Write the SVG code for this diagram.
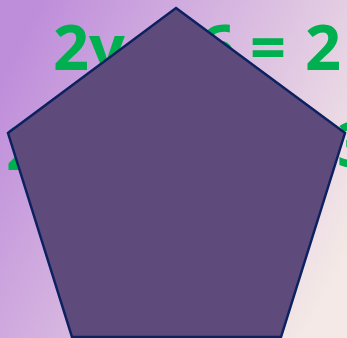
<svg xmlns="http://www.w3.org/2000/svg" width="347" height="338" viewBox="0 0 347 338">
  <defs>
    <linearGradient id="bg" x1="0" y1="0.25" x2="1" y2="0.75">
      <stop offset="0" stop-color="#bf8edb"/>
      <stop offset="1" stop-color="#f4e9e6"/>
    </linearGradient>
    <style>
      .eq { font-family: "Open Sans", "Liberation Sans", sans-serif; font-weight: 700; font-size: 63px; fill: #00b050; }
      .shape { fill: #5f4b7b; stroke: #0c2160; stroke-width: 2.5; stroke-linejoin: miter; }
    </style>
  </defs>
  <rect x="0" y="0" width="347" height="338" fill="url(#bg)"/>
  <g id="equation">
    <text class="eq" x="53" y="70">2y</text>
    <text class="eq" x="199" y="70">6</text>
    <text class="eq" x="250" y="70">=</text>
    <text class="eq" x="305" y="70">2</text>
    <text class="eq" x="6" y="170">2</text>
    <text class="eq" x="337" y="167">3</text>
  </g>
  <g id="pentagon">
    <polygon class="shape" points="176,8 345,133 281,337 72,337 8,133"/>
  </g>
</svg>
